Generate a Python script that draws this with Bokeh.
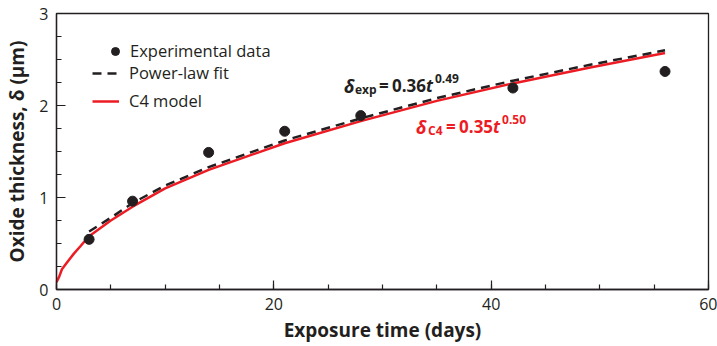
from bokeh.plotting import figure
from bokeh.models import Range1d, FixedTicker, Legend, LegendItem, Label
from bokeh.embed import file_html
from bokeh.resources import INLINE

# Experimental data (days, µm)
t_exp = [3, 7, 14, 21, 28, 42, 56]
d_exp = [0.545, 0.96, 1.49, 1.72, 1.89, 2.19, 2.37]

# Power-law fit
t_fit = [3, 5, 7, 10, 14, 21, 28, 35, 42, 49, 56]
d_fit = [0.63, 0.78, 0.94, 1.13, 1.33, 1.62, 1.86, 2.08, 2.27, 2.44, 2.60]

# C4 model
t_c4 = [0, 0.25, 0.5, 1, 1.6, 2.2, 3, 5, 7, 10, 12, 14, 21, 28, 35, 42, 49, 56]
d_c4 = [0.08, 0.14, 0.22, 0.30, 0.39, 0.47, 0.58, 0.75, 0.90, 1.10, 1.20, 1.30,
        1.59, 1.83, 2.05, 2.24, 2.41, 2.57]

x_ticks = [0, 20, 40, 60]
y_ticks = [0, 1, 2, 3]
x_minor = [0, 5, 10, 15, 20, 25, 30, 35, 40, 45, 50, 55, 60]
y_minor = [0, 0.25, 0.5, 0.75, 1, 1.25, 1.5, 1.75, 2, 2.25, 2.5, 2.75, 3]

INK = "#231f20"
RED = "#ed1c24"
FONT = "Open Sans"

p = figure(width=717, height=346, output_backend="svg", toolbar_location=None,
           x_range=Range1d(0, 60), y_range=Range1d(0, 3),
           min_border_left=56, min_border_right=9, min_border_top=13,
           min_border_bottom=57)
p.xgrid.visible = False
p.ygrid.visible = False
p.outline_line_color = INK
p.outline_line_width = 1.3
p.background_fill_color = "white"
p.border_fill_color = "white"

r_c4 = p.line(t_c4, d_c4, line_color=RED, line_width=2.5)
r_fit = p.line(t_fit, d_fit, line_color=INK, line_width=2.5, line_dash="9 6")
r_pts = p.scatter(t_exp, d_exp, size=10, fill_color=INK, line_color=INK)

for ax, ticks, minor in ((p.xaxis[0], x_ticks, x_minor), (p.yaxis[0], y_ticks, y_minor)):
    ax.ticker = FixedTicker(ticks=ticks, minor_ticks=minor)
    ax.axis_line_color = INK
    ax.axis_line_width = 1.3
    ax.major_tick_line_color = INK
    ax.minor_tick_line_color = INK
    ax.major_tick_line_width = 1.2
    ax.minor_tick_line_width = 1.2
    ax.major_tick_in = 9
    ax.major_tick_out = 0
    ax.minor_tick_in = 5
    ax.minor_tick_out = 0
    ax.major_label_text_font = FONT
    ax.major_label_text_font_size = "16px"
    ax.major_label_text_color = INK
    ax.axis_label_text_font = FONT
    ax.axis_label_text_font_size = "19px"
    ax.axis_label_text_font_style = "bold"
    ax.axis_label_text_color = INK

p.xaxis.axis_label = "Exposure time (days)"
p.yaxis.axis_label = "Oxide thickness, δ (μm)"
p.xaxis.major_label_standoff = 8
p.yaxis.major_label_standoff = 8
p.xaxis.axis_label_standoff = 4
p.yaxis.axis_label_standoff = 6

common = dict(glyph_height=20, label_height=20, spacing=5,
              padding=0, margin=0, border_line_alpha=0, background_fill_alpha=0,
              label_text_font=FONT, label_text_font_size="16.5px",
              label_text_color=INK)
leg1 = Legend(items=[LegendItem(label="Experimental data", renderers=[r_pts])],
              location=(49, 227), glyph_width=20, label_standoff=5, **common)
leg2 = Legend(items=[LegendItem(label="Power-law fit", renderers=[r_fit]),
                     LegendItem(label="C4 model", renderers=[r_c4])],
              location=(36, 177), glyph_width=27, label_standoff=10, **common)
p.add_layout(leg1)
p.add_layout(leg2)


def eq(x, y, parts, color):
    for text, dx, dy, size, style in parts:
        p.add_layout(Label(x=x, y=y, x_offset=dx, y_offset=dy, text=text,
                           text_font=FONT, text_font_size=size,
                           text_font_style=style, text_color=color,
                           text_baseline="alphabetic", text_align="left"))


eq(26.45, 2.215, [("δ", 0, 0, "18px", "bold italic"),
                  ("exp", 11, -4, "12px", "bold"),
                  ("=", 35, 0, "17px", "bold"),
                  ("0.36", 48, 0, "17px", "bold"),
                  ("t", 82, 0, "17px", "bold italic"),
                  ("0.49", 91, 7, "12px", "bold")], INK)
eq(33.09, 1.768, [("δ", 0, 0, "18px", "bold italic"),
                  ("C4", 12, -4, "12px", "bold"),
                  ("=", 30, 0, "17px", "bold"),
                  ("0.35", 43, 0, "17px", "bold"),
                  ("t", 77, 0, "17px", "bold italic"),
                  ("0.50", 86, 7, "12px", "bold")], RED)

open("out.html", "w").write(file_html(p, INLINE))
